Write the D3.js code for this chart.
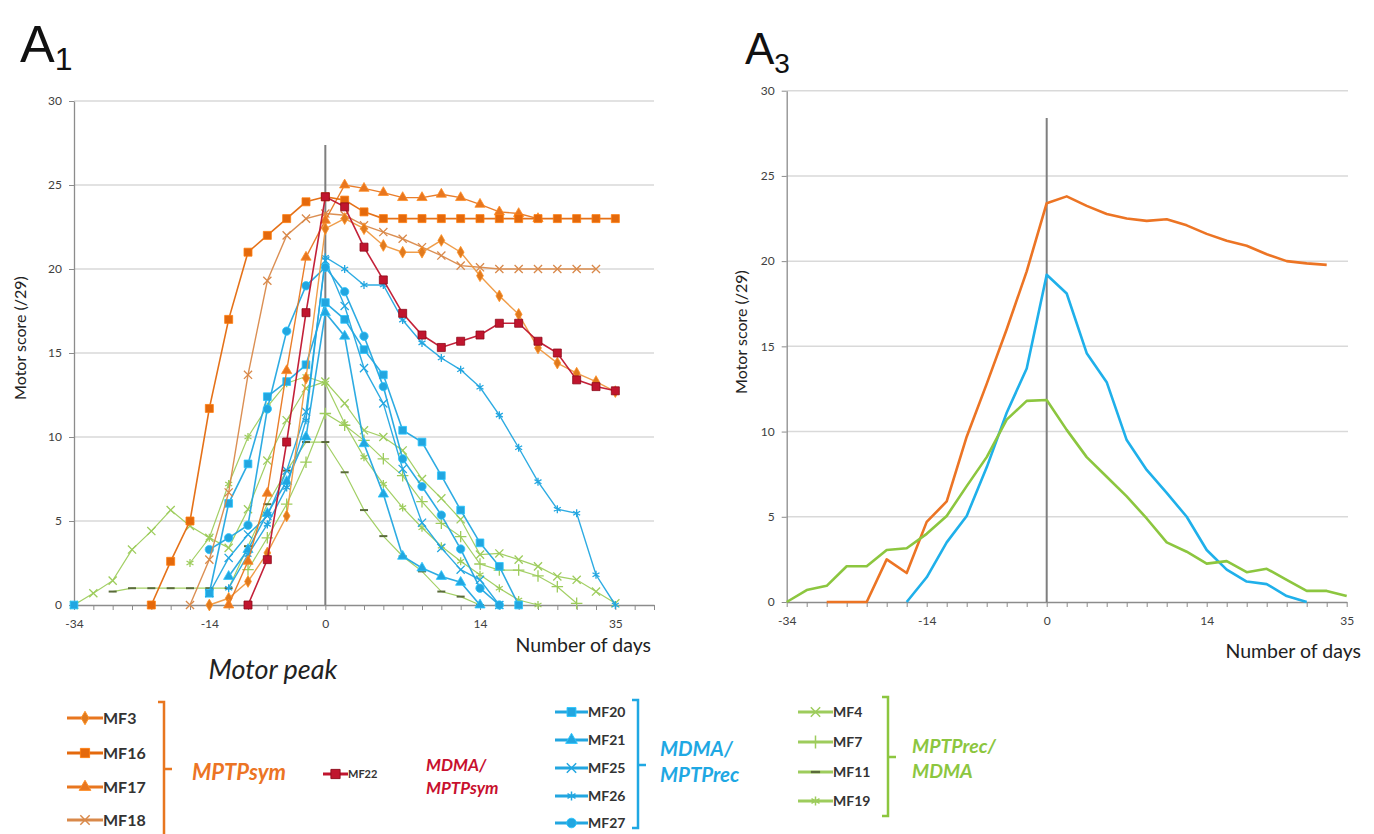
<!DOCTYPE html>
<html><head><meta charset="utf-8">
<script src="https://cdn.jsdelivr.net/npm/d3@7"></script>
<style>
body{margin:0;background:#fff;}
svg{font-family:Lato,"Liberation Sans",sans-serif;}
</style></head>
<body><svg id="c" width="1374" height="834"></svg>
<script>
// ---------- DATA ----------
const nCat = 29;                       // category slots (index 0..28)
const tickIndex = [0, 7, 13, 21, 28];
const tickLabels = ["-34", "-14", "0", "14", "35"];
const peakIndex = 13;
const yTicks = [0, 5, 10, 15, 20, 25, 30];

function pad(start, vals){ const a = new Array(nCat).fill(null); vals.forEach((v,k)=>a[start+k]=v); return a; }

// Panel A1 — individual animals
const MF3  = pad(7,  [0,0.4,1.4,3.1,5.3,13.5,22.4,23.0,22.4,21.4,21.0,21.0,21.7,21.0,19.6,18.4,17.3,15.3,14.4,13.8,13.3,12.7]);
const MF16 = pad(4,  [0,2.6,5.0,11.7,17.0,21.0,22.0,23.0,24.0,24.3,24.1,23.4,23,23,23,23,23,23,23,23,23,23,23,23,23]);
const MF17 = pad(8,  [0,2.6,6.65,13.95,20.7,22.9,25.0,24.8,24.55,24.25,24.25,24.45,24.25,23.85,23.4,23.3,23.0]);
const MF18 = pad(6,  [0,2.7,6.7,13.7,19.3,22.0,23.0,23.3,23.2,22.6,22.2,21.8,21.3,20.8,20.2,20.1,20,20,20,20,20,20]);
const MF22 = pad(9,  [0,2.7,9.7,17.4,24.3,23.7,21.3,19.35,17.36,16.07,15.33,15.7,16.07,16.77,16.77,15.7,15.0,13.4,13.0,12.75]);
const MF20 = pad(0,  [0,null,null,null,null,null,null,0.7,6.05,8.4,12.4,13.3,14.3,18.0,17.0,15.2,13.7,10.4,9.7,7.7,5.65,3.7,2.3,0]);
const MF21 = pad(8,  [1.7,3.3,5.45,7.35,10.0,17.4,16.0,9.6,6.6,2.9,2.2,1.7,1.35,0]);
const MF25 = pad(7,  [0.7,2.8,4.2,5.3,8.0,11.5,20.5,17.8,14.1,12.0,8.1,4.9,3.4,2.1,1.5,0]);
const MF26 = pad(8,  [1.0,3.0,4.8,7.0,11.0,20.7,20.0,19.05,19.05,16.96,15.6,14.7,14.0,12.96,11.3,9.36,7.34,5.7,5.46,1.8,0]);
const MF27 = pad(7,  [3.3,4.0,4.75,11.67,16.3,19.0,20.1,18.65,16.0,13.0,8.7,7.05,5.35,3.33,1.0,0]);
const MF4  = pad(0,  [0,0.7,1.45,3.3,4.4,5.65,4.7,4.0,3.4,5.7,8.6,11.0,12.9,13.3,12.0,10.4,10.0,9.2,7.5,6.35,5.1,3.0,3.07,2.7,2.3,1.7,1.5,0.8,0.1]);
const MF7  = pad(9,  [2.1,4.0,6.0,8.5,11.4,10.7,9.8,8.7,7.7,6.15,4.86,4.07,2.44,2.08,2.08,1.73,1.09,0.1]);
const MF11 = pad(2,  [0.8,1,1,1,1,1,1,3.5,6.0,8.0,9.7,9.7,7.9,5.65,4.1,2.9,2.0,0.8,0.5,0]);
const MF19 = pad(6,  [2.5,4.0,7.2,10.0,11.8,13.2,13.6,13.2,10.8,8.8,7.2,5.8,4.6,3.5,2.6,1.8,1.0,0.3,0]);

// Panel A3 — group means
const meanMPTPsym   = pad(2, [0,0,0,2.5,1.7,4.7,5.9,9.7,12.8,16.0,19.4,23.4,23.8,23.24,22.77,22.5,22.36,22.46,22.1,21.6,21.2,20.9,20.4,20.0,19.87,19.78]);
const meanMDMA_MPTPrec = pad(6, [0,1.45,3.5,5.05,7.9,11.1,13.7,19.2,18.1,14.6,12.9,9.5,7.75,6.4,5.0,3.05,1.9,1.2,1.05,0.35,0]);
const meanMPTPrec_MDMA = pad(0, [0,0.7,0.95,2.1,2.1,3.05,3.15,4.0,5.05,6.8,8.5,10.7,11.8,11.85,10.1,8.5,7.35,6.2,4.9,3.5,2.95,2.25,2.4,1.75,1.95,1.3,0.65,0.65,0.35]);

// ---------- STYLE ----------
const C = {
  orange:"#E8761F", orangeDk:"#E4690C", orangeLt:"#EE9840", brown:"#D9894A",
  red:"#C0152E", blue:"#22A6E0", green:"#9DCC5C", greenDk:"#6E9A2F"
};
const svg = d3.select("#c");

const seriesA1 = [
  {name:"MF4",  data:MF4,  color:C.green, sym:d3.symbolTimes,    stroke:true, lw:1.2},
  {name:"MF7",  data:MF7,  color:C.green, sym:d3.symbolPlus,     stroke:true, lw:1.2},
  {name:"MF11", data:MF11, color:C.green, sym:"dash",            stroke:true, lw:1.2},
  {name:"MF19", data:MF19, color:C.green, sym:d3.symbolAsterisk, stroke:true, lw:1.2},
  {name:"MF20", data:MF20, color:C.blue, sym:d3.symbolSquare,   size:60, lw:1.6},
  {name:"MF21", data:MF21, color:C.blue, sym:d3.symbolTriangle, size:45, lw:1.6},
  {name:"MF25", data:MF25, color:C.blue, sym:d3.symbolTimes,    stroke:true, lw:1.4},
  {name:"MF26", data:MF26, color:C.blue, sym:d3.symbolAsterisk, stroke:true, lw:1.4},
  {name:"MF27", data:MF27, color:C.blue, sym:d3.symbolCircle,   size:55, lw:1.6},
  {name:"MF18", data:MF18, color:C.brown,  sym:d3.symbolTimes,  stroke:true, lw:1.4},
  {name:"MF3",  data:MF3,  color:C.orangeLt, mcolor:"#E07A1E", sym:d3.symbolDiamond, size:40, lw:1.4},
  {name:"MF17", data:MF17, color:C.orange, sym:d3.symbolTriangle, size:45, lw:1.4},
  {name:"MF16", data:MF16, color:C.orangeDk, sym:d3.symbolSquare, size:64, lw:1.6},
  {name:"MF22", data:MF22, color:C.red, sym:d3.symbolSquare, size:64, lw:1.6, edge:"#8E0A1A"},
];

function symPath(s, size){
  if(s.sym==="dash") return "M-4,0H4";
  return d3.symbol(s.sym, size || s.size || 40)();
}
function drawMarker(g, s, x, y, scale){
  const sc = scale||1;
  const p = g.append("path").attr("transform",`translate(${x},${y}) scale(${sc})`)
    .attr("d", symPath(s, s.stroke ? 45 : s.size));
  if(s.sym==="dash"){ p.attr("fill","none").attr("stroke","#5a6b3a").attr("stroke-width",2); }
  else if(s.stroke){ p.attr("fill","none").attr("stroke",s.mcolor||s.color).attr("stroke-width",1.3); }
  else { p.attr("fill",s.mcolor||s.color).attr("stroke",s.edge||d3.color(s.mcolor||s.color).brighter(0.5)).attr("stroke-width",0.8); }
}

function panel(opt){
  const x = d3.scaleLinear().domain([0,opt.xMax]).range([opt.x0,opt.x1]);
  const y = d3.scaleLinear().domain([0,30]).range([opt.y0,opt.yTop]);
  const g = svg.append("g");
  g.selectAll("line.grid").data(yTicks.slice(1)).join("line")
    .attr("x1",opt.x0).attr("x2",opt.gridEnd).attr("y1",d=>y(d)).attr("y2",d=>y(d))
    .attr("stroke","#D9D9D9").attr("stroke-width",1.5);
  const ya = g.append("g").attr("transform",`translate(${opt.x0},0)`)
    .call(d3.axisLeft(y).tickValues(yTicks).tickSize(5).tickSizeOuter(0).tickPadding(7));
  ya.select(".domain").attr("stroke","#8C8C8C").attr("stroke-width",1.3);
  ya.selectAll(".tick line").attr("stroke","#8C8C8C");
  ya.selectAll("text").attr("font-size",12).attr("fill","#404040").attr("font-family","Lato");
  const xa = g.append("g").attr("transform",`translate(0,${opt.y0})`)
    .call(d3.axisBottom(x).tickValues(d3.range(0,opt.xMax+1)).tickSize(5).tickSizeOuter(0).tickPadding(9)
      .tickFormat(i=>{const k=tickIndex.indexOf(i);return k<0?"":tickLabels[k];}));
  xa.select(".domain").attr("stroke","#8C8C8C").attr("stroke-width",1.3);
  xa.selectAll(".tick line").attr("stroke","#8C8C8C");
  xa.selectAll("text").attr("font-size",12).attr("fill","#404040").attr("font-family","Lato");
  g.append("line").attr("x1",x(peakIndex)).attr("x2",x(peakIndex)).attr("y1",opt.peakTop).attr("y2",opt.y0)
    .attr("stroke","#7F7F7F").attr("stroke-width",2);
  return {x,y,g};
}

// ---------- Panel A1 ----------
const P1 = panel({x0:74, x1:654, xMax:30, y0:605, yTop:101, gridEnd:654, peakTop:145});
seriesA1.forEach(s=>{
  const line = d3.line().defined(d=>d!=null).x((d,i)=>P1.x(i)).y(d=>P1.y(d));
  P1.g.append("path").datum(s.data).attr("d",line).attr("fill","none")
    .attr("stroke",s.color).attr("stroke-width",s.lw).attr("stroke-opacity",0.95);
  s.data.forEach((d,i)=>{ if(d!=null) drawMarker(P1.g, s, P1.x(i), P1.y(d)); });
});

// ---------- Panel A3 ----------
const P3 = panel({x0:786.7, x1:1346.7, xMax:28, y0:602, yTop:90.7, gridEnd:1348, peakTop:118});
const seriesA3 = [
  {data:meanMPTPsym, color:"#EC7424"},
  {data:meanMDMA_MPTPrec, color:"#1FB0EA"},
  {data:meanMPTPrec_MDMA, color:"#8CC63F"},
];
seriesA3.forEach(s=>{
  const line = d3.line().defined(d=>d!=null).x((d,i)=>P3.x(i)).y(d=>P3.y(d));
  P3.g.append("path").datum(s.data).attr("d",line).attr("fill","none")
    .attr("stroke",s.color).attr("stroke-width",2.6).attr("stroke-linejoin","round");
});

// ---------- Texts ----------
function txt(x,y,t,o){
  const e = svg.append("text").attr("x",x).attr("y",y).text(t);
  Object.entries(o||{}).forEach(([k,v])=>e.attr(k,v));
  return e;
}
const tA1 = txt(20,62,"",{"font-size":52,"fill":"#111","font-family":"Liberation Sans"});
tA1.append("tspan").text("A");
tA1.append("tspan").attr("font-size",32).attr("dy",8).text("1");
const tA3 = txt(745,64,"",{"font-size":44,"fill":"#111","font-family":"Liberation Sans"});
tA3.append("tspan").text("A");
tA3.append("tspan").attr("font-size",28).attr("dy",9).text("3");

txt(0,0,"Motor score (/29)",{"font-size":16,"fill":"#222","text-anchor":"middle","transform":"translate(26,338) rotate(-90)"});
txt(0,0,"Motor score (/29)",{"font-size":16,"fill":"#222","text-anchor":"middle","transform":"translate(747,332) rotate(-90)"});
txt(651,652,"Number of days",{"font-size":19.5,"fill":"#222","text-anchor":"end"});
txt(1361,658,"Number of days",{"font-size":19.5,"fill":"#222","text-anchor":"end"});
txt(273,679,"Motor peak",{"font-size":27,"fill":"#222","text-anchor":"middle","font-style":"italic"});

// ---------- Legend ----------
const legendGroups = [
  {names:["MF3","MF16","MF17","MF18"], x0:67, x1:103, ys:[718,753,787,820], fs:16, color:"#333"},
  {names:["MF22"], x0:323, x1:348, ys:[774], fs:11, color:"#333"},
  {names:["MF20","MF21","MF25","MF26","MF27"], x0:555, x1:588, ys:[712,740,768,796,823], fs:14, color:"#333"},
  {names:["MF4","MF7","MF11","MF19"], x0:798, x1:833, ys:[712,742,772,801], fs:14, color:"#333"},
];
const byName = Object.fromEntries(seriesA1.map(s=>[s.name,s]));
legendGroups.forEach(gp=>{
  gp.names.forEach((n,k)=>{
    const s = byName[n], yy = gp.ys[k];
    svg.append("line").attr("x1",gp.x0).attr("x2",gp.x1).attr("y1",yy).attr("y2",yy)
      .attr("stroke",n==="MF3"?"#E8761F":s.color).attr("stroke-width",3);
    drawMarker(svg, n==="MF3"?Object.assign({},s,{mcolor:"#E07A1E"}):s, (gp.x0+gp.x1)/2, yy, 1.15);
    txt(gp.x1,yy+gp.fs*0.36,n,{"font-size":gp.fs,"font-weight":"bold","fill":gp.color});
  });
});
function bracket(x, yTop, yBot, yMid, color){
  const p = d3.path();
  p.moveTo(x-6,yTop); p.lineTo(x,yTop); p.lineTo(x,yBot); p.lineTo(x-6,yBot);
  p.moveTo(x,yMid); p.lineTo(x+8,yMid);
  svg.append("path").attr("d",p.toString()).attr("fill","none").attr("stroke",color).attr("stroke-width",2.5);
}
bracket(164,702,840,769,"#E8761F");
bracket(638,700,828,765,"#1FA8E3");
bracket(888,697,816,757,"#8CC63F");

const gtxt = (x,y,t,c,fs)=>txt(x,y,t,{"font-size":fs,"font-weight":"bold","font-style":"italic","fill":c});
gtxt(192,780,"MPTPsym","#EC7424",22);
gtxt(426,771,"MDMA/","#C8102E",17);
gtxt(426,794,"MPTPsym","#C8102E",17);
gtxt(660,756,"MDMA/","#1FA8E3",20.5);
gtxt(660,782,"MPTPrec","#1FA8E3",20.5);
gtxt(912,753,"MPTPrec/","#8CC63F",19.5);
gtxt(912,778,"MDMA","#8CC63F",19.5);
</script></body></html>
